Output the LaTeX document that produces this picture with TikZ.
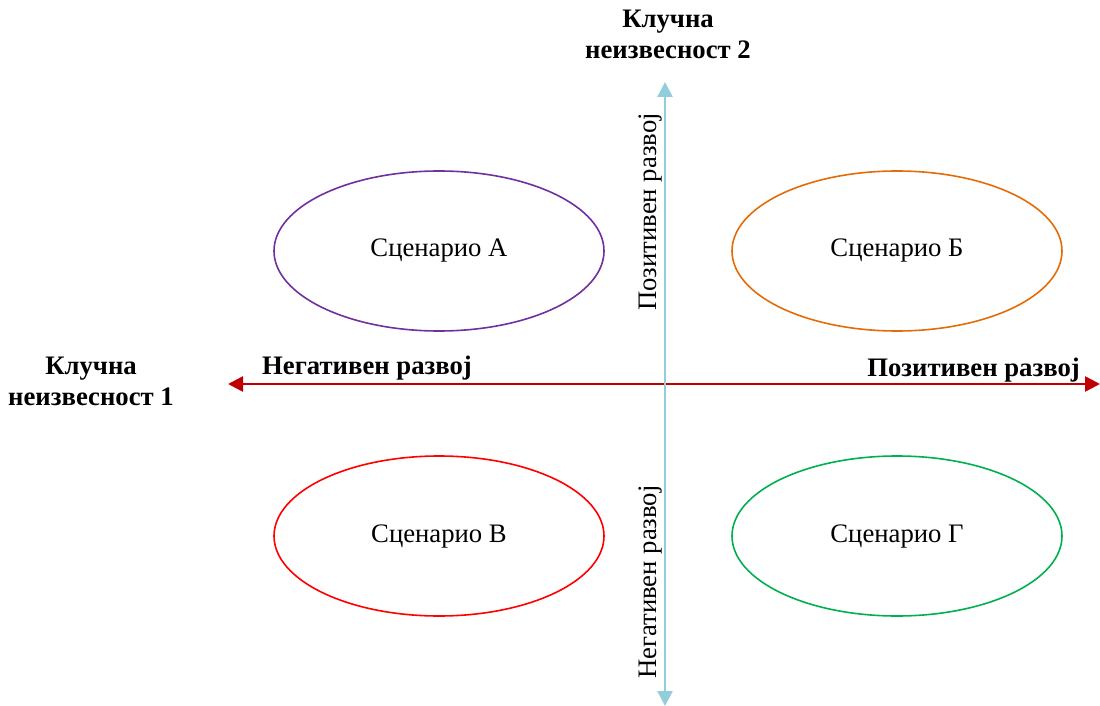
\documentclass[tikz,border=0pt]{standalone}
\usepackage{fontspec}
\setmainfont{Liberation Serif}
\usetikzlibrary{arrows.meta,shapes.geometric}
\definecolor{axisred}{HTML}{C00000}
\definecolor{axisblue}{HTML}{92CDDC}
\definecolor{scpurple}{HTML}{7030A0}
\definecolor{scorange}{HTML}{E36C09}
\definecolor{scred}{HTML}{FF0000}
\definecolor{scgreen}{HTML}{00B050}
\begin{document}
\begin{tikzpicture}[x=1pt,y=-1pt,
  scenario/.style={ellipse, draw, line width=1.6pt, minimum width=330pt, minimum height=160pt, inner sep=0pt, font=\fontsize{26.7}{30}\selectfont},
  axislabel/.style={font=\bfseries\fontsize{26.7}{30}\selectfont, inner sep=0pt},
  keylabel/.style={font=\bfseries\fontsize{26.7}{31}\selectfont, align=center, inner sep=0pt},
  sidelabel/.style={font=\fontsize{26.7}{30}\selectfont, rotate=90, inner sep=0pt},
  axisarrow/.style={line width=2.6pt, {Triangle[length=15pt,width=15pt]}-{Triangle[length=15pt,width=15pt]}}]
\useasboundingbox (0,0) rectangle (1100,706);

% axes
\coordinate (hl) at (228,384);
\coordinate (hr) at (1100,384);
\coordinate (vt) at (665,82);
\coordinate (vb) at (665,706);
\draw[axisarrow, axisred] (hl) -- (hr);
\draw[axisarrow, axisblue] (vb) -- (vt);

% scenarios
\node[scenario, draw=scpurple] (sa) at (439,251) {Сценарио А};
\node[scenario, draw=scorange] (sb) at (897,251) {Сценарио Б};
\node[scenario, draw=scred] (sv) at (439,536) {Сценарио В};
\node[scenario, draw=scgreen] (sg) at (897,536) {Сценарио Г};

% labels on the axes
\node[axislabel, anchor=west] (hneg) at (262,368) {Негативен развој};
\node[axislabel, anchor=east] (hpos) at (1080,370) {Позитивен развој};
\node[sidelabel] (vpos) at (650,212) {Позитивен развој};
\node[sidelabel] (vneg) at (650,582) {Негативен развој};

% key uncertainties
\node[keylabel] (k1) at (91,381) {Клучна\\неизвесност 1};
\node[keylabel] (k2) at (668,34) {Клучна\\неизвесност 2};
\end{tikzpicture}
\end{document}
